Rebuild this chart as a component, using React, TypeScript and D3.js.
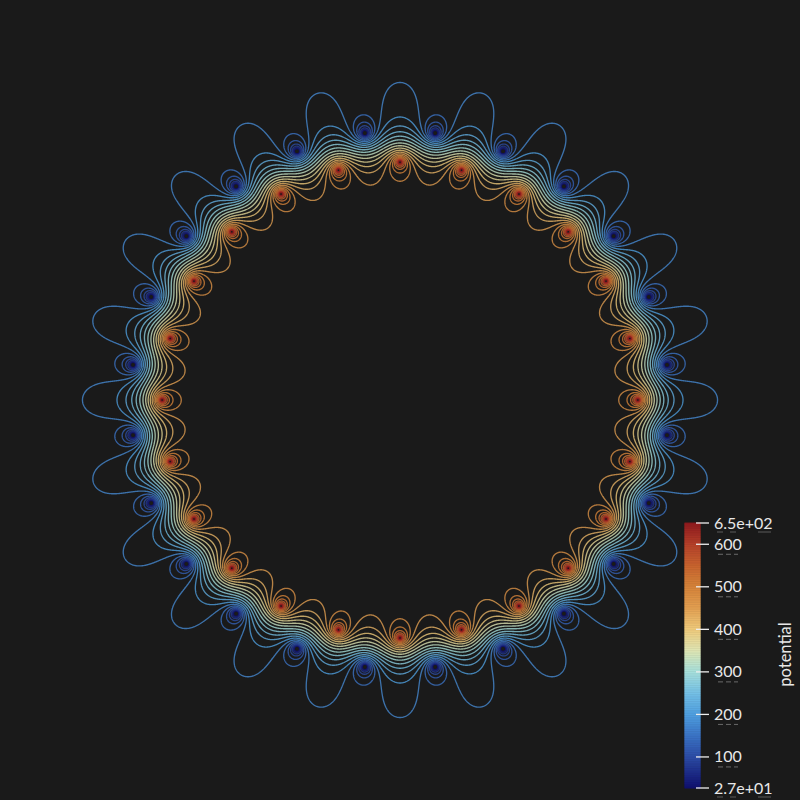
import React, { useMemo } from "react";
import * as d3 from "d3";

const innerAngles = [0,15,30,45,60,75,90,105,120,135,150,165,180,195,210,225,240,255,270,285,300,315,330,345];
const outerAngles = [7.5,22.5,37.5,52.5,67.5,82.5,97.5,112.5,127.5,142.5,157.5,172.5,187.5,202.5,217.5,232.5,247.5,262.5,277.5,292.5,307.5,322.5,337.5,352.5];
const innerRadius = 238;
const outerRadius = 269;
const potentialOffset = 174.6;
const potentialGain = 97.5;
const contourLevels = [27,51.9,76.8,101.8,126.7,151.6,176.5,201.4,226.4,251.3,276.2,301.1,326,351,375.9,400.8,425.7,450.6,475.6,500.5,525.4,550.3,575.2,600.2,625.1,650];
const barTicks = [100,200,300,400,500,600];
const barEnds = [27,650];
const barEndLabels = ["2.7e+01","6.5e+02"];
const colorPositions = [27,60,100,150,200,250,300,350,400,450,500,550,600,650];
const colorValues = ["#10106e","#1c2a86","#2c4ca6","#3b74c6","#4f9fe0","#74c0e6","#a6e0dc","#dfe6b4","#efcb7c","#e3a052","#d6843a","#c8642f","#b5402a","#8f1a1e"];

const CX = 400, CY = 400;
const STEP = 0.5, X0 = 60, Y0 = 60, N = 1360;

function computeField() {
  const vals = new Float64Array(N * N);
  const toXY = (deg: number, r: number) => [r * Math.cos(deg * Math.PI / 180), r * Math.sin(deg * Math.PI / 180)];
  const reds = innerAngles.map(a => toXY(a, innerRadius));
  const blues = outerAngles.map(a => toXY(a, outerRadius));
  const interior = potentialOffset + potentialGain * 24 * Math.log(outerRadius / innerRadius);
  for (let j = 0; j < N; j++) {
    const y = Y0 + j * STEP - CY;
    for (let i = 0; i < N; i++) {
      const x = X0 + i * STEP - CX;
      const r = Math.hypot(x, y);
      let p: number;
      if (r < 190) p = interior;
      else if (r > 335) p = potentialOffset;
      else {
        let s = 0;
        for (const q of blues) s += 0.5 * Math.log((x - q[0]) ** 2 + (y - q[1]) ** 2 + 0.04);
        for (const q of reds) s -= 0.5 * Math.log((x - q[0]) ** 2 + (y - q[1]) ** 2 + 0.04);
        p = potentialOffset + potentialGain * s;
        p = Math.max(20, Math.min(660, p));
      }
      vals[j * N + i] = p;
    }
  }
  return vals;
}

export default function App() {
  const color = d3.scaleLinear<string>().domain(colorPositions).range(colorValues).interpolate(d3.interpolateRgb);
  const barY = d3.scaleLinear().domain([27, 650]).range([788, 523]);
  const paths = useMemo(() => {
    const vals = computeField();
    const gen = d3.contours().size([N, N]).smooth(true).thresholds(contourLevels);
    const geo = d3.geoPath();
    return gen(vals as any).map(c => ({ value: c.value, d: geo(c as any) || "" }));
  }, []);
  const barSteps = d3.range(27, 650, 1.5);
  return (
    <svg width={800} height={800} style={{ position: "absolute", left: 0, top: 0, background: "#1a1a1a" }}>
      <defs>
        <clipPath id="ring"><circle cx={CX} cy={CY} r={330} /></clipPath>
      </defs>
      <g clipPath="url(#ring)">
        <g transform={`translate(${X0 - STEP / 2},${Y0 - STEP / 2}) scale(${STEP})`}>
          {paths.map(p => (
            <path key={p.value} d={p.d} fill="none" stroke={color(p.value)} strokeWidth={2.7} opacity={0.78} />
          ))}
        </g>
      </g>
      <g>
        {barSteps.map(v => (
          <rect key={v} x={684.5} width={16} y={barY(v + 1.5)} height={barY(v) - barY(v + 1.5) + 0.5} fill={color(v)} />
        ))}
      </g>
      <g fontFamily="Lato" fontSize={16} fill="#e8e8e8">
        {barTicks.map(t => (
          <g key={t}>
            <line x1={696} x2={709} y1={barY(t)} y2={barY(t)} stroke="#eeeeee" strokeWidth={1.3} />
            <text x={714} y={barY(t) + 5.5}>{t}</text>
            <line x1={718} x2={738} y1={barY(t) + 10} y2={barY(t) + 10} stroke="#6a6a6a" strokeDasharray="5 3" strokeWidth={1} />
          </g>
        ))}
        {barEnds.map((t, i) => (
          <g key={t}>
            <line x1={696} x2={709} y1={barY(t)} y2={barY(t)} stroke="#eeeeee" strokeWidth={1.3} />
            <text x={714} y={barY(t) + 5.5}>{barEndLabels[i]}</text>
            <line x1={717} x2={771} y1={barY(t) + 9} y2={barY(t) + 9} stroke="#5a5a5a" strokeDasharray="6 7 6 22 14 0" strokeWidth={1} />
          </g>
        ))}
        <text transform="translate(791,654.5) rotate(-90)" textAnchor="middle" fontSize={16.5}>potential</text>
      </g>
    </svg>
  );
}
